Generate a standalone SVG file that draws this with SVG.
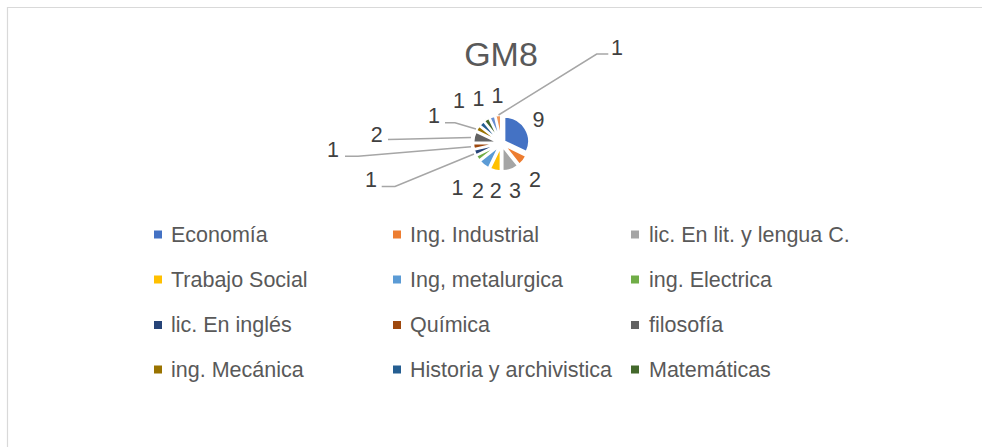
<svg xmlns="http://www.w3.org/2000/svg" width="982" height="447" viewBox="0 0 982 447">
<style>
.sl{stroke:#fff;stroke-width:2;stroke-linejoin:round}
.dl{font-family:"Liberation Sans",Arial,sans-serif;font-size:21.5px;fill:#404040;text-anchor:middle}
.lg{font-family:"Liberation Sans",Arial,sans-serif;font-size:21.5px;fill:#595959}
.ld{fill:none;stroke:#A6A6A6;stroke-width:1.6}
</style>
<rect x="0" y="0" width="982" height="447" fill="#fff"/>
<path d="M7.5,447 V7.5 H982" fill="none" stroke="#D9D9D9" stroke-width="1.2"/>
<text id="title" x="501" y="66" font-family="'Liberation Sans',Arial,sans-serif" font-size="34" fill="#595959" text-anchor="middle">GM8</text>
<g id="pie">
<path id="s1" class="sl" fill="#4472C4" d="M504.36,141.34 L504.36,116.74 A24.6,24.6 0 0 1 526.52,152.01 Z"/>
<path id="s2" class="sl" fill="#ED7D31" d="M504.14,145.38 L526.30,156.05 A24.6,24.6 0 0 1 519.48,164.61 Z"/>
<path id="s3" class="sl" fill="#A5A5A5" d="M502.56,146.50 L517.90,165.73 A24.6,24.6 0 0 1 502.56,171.10 Z"/>
<path id="s4" class="sl" fill="#FFC000" d="M500.62,146.61 L500.62,171.21 A24.6,24.6 0 0 1 489.95,168.77 Z"/>
<path id="s5" class="sl" fill="#5B9BD5" d="M499.22,145.94 L488.55,168.10 A24.6,24.6 0 0 1 479.99,161.28 Z"/>
<path id="s6" class="sl" fill="#70AD47" d="M498.44,145.06 L479.21,160.40 A24.6,24.6 0 0 1 476.28,155.73 Z"/>
<path id="s7" class="sl" fill="#264478" d="M498.10,144.36 L475.94,155.03 A24.6,24.6 0 0 1 474.12,149.83 Z"/>
<path id="s8" class="sl" fill="#9E480E" d="M497.92,143.59 L473.94,149.06 A24.6,24.6 0 0 1 473.32,143.59 Z"/>
<path id="s9" class="sl" fill="#636363" d="M497.99,142.42 L473.39,142.42 A24.6,24.6 0 0 1 475.83,131.75 Z"/>
<path id="s10" class="sl" fill="#997300" d="M498.44,141.34 L476.28,130.67 A24.6,24.6 0 0 1 479.21,126.00 Z"/>
<path id="s11" class="sl" fill="#255E91" d="M498.93,140.73 L479.70,125.39 A24.6,24.6 0 0 1 483.59,121.50 Z"/>
<path id="s12" class="sl" fill="#43682B" d="M499.54,140.24 L484.20,121.01 A24.6,24.6 0 0 1 488.87,118.08 Z"/>
<path id="s13" class="sl" fill="#698ED0" d="M500.24,139.90 L489.57,117.74 A24.6,24.6 0 0 1 494.77,115.92 Z"/>
<path id="s14" class="sl" fill="#F1975A" d="M501.01,139.72 L495.54,115.74 A24.6,24.6 0 0 1 501.01,115.12 Z"/>
</g>
<g id="leaders">
<polyline class="ld" points="381.7,186.5 395,186.5 474,154"/>
<polyline class="ld" points="345,156.3 358,156.3 471,146.8"/>
<polyline class="ld" points="388,139.5 400,139.3 471,137.5"/>
<polyline class="ld" points="445,122.7 455,122.7 476,129"/>
<polyline class="ld" points="608.3,54 596.7,54 498.5,115"/>
</g>
<g id="datalabels">
<text class="dl" x="538.5" y="126.7">9</text>
<text class="dl" x="535" y="186.7">2</text>
<text class="dl" x="515" y="198">3</text>
<text class="dl" x="495.7" y="198">2</text>
<text class="dl" x="478" y="198">2</text>
<text class="dl" x="457.5" y="195">1</text>
<text class="dl" x="371" y="186.7">1</text>
<text class="dl" x="333" y="156.7">1</text>
<text class="dl" x="376.7" y="141.7">2</text>
<text class="dl" x="434" y="123.3">1</text>
<text class="dl" x="459" y="108.3">1</text>
<text class="dl" x="478.5" y="106">1</text>
<text class="dl" x="497.5" y="102.7">1</text>
<text class="dl" x="617" y="55">1</text>
</g>
<g id="legend">
<g id="lg1"><rect x="154" y="230.5" width="8" height="8" fill="#4472C4"/><text class="lg" x="171" y="241.5">Economía</text></g>
<g id="lg2"><rect x="393" y="230.5" width="8" height="8" fill="#ED7D31"/><text class="lg" x="410" y="241.5">Ing. Industrial</text></g>
<g id="lg3"><rect x="631" y="230.5" width="8" height="8" fill="#A5A5A5"/><text class="lg" x="649" y="241.5">lic. En lit. y lengua C.</text></g>
<g id="lg4"><rect x="154" y="275.5" width="8" height="8" fill="#FFC000"/><text class="lg" x="171" y="286.5">Trabajo Social</text></g>
<g id="lg5"><rect x="393" y="275.5" width="8" height="8" fill="#5B9BD5"/><text class="lg" x="410" y="286.5">Ing, metalurgica</text></g>
<g id="lg6"><rect x="631" y="275.5" width="8" height="8" fill="#70AD47"/><text class="lg" x="649" y="286.5">ing. Electrica</text></g>
<g id="lg7"><rect x="154" y="321" width="8" height="8" fill="#264478"/><text class="lg" x="171" y="332">lic. En inglés</text></g>
<g id="lg8"><rect x="393" y="321" width="8" height="8" fill="#9E480E"/><text class="lg" x="410" y="332">Química</text></g>
<g id="lg9"><rect x="631" y="321" width="8" height="8" fill="#636363"/><text class="lg" x="649" y="332">filosofía</text></g>
<g id="lg10"><rect x="154" y="365.5" width="8" height="8" fill="#997300"/><text class="lg" x="171" y="376.5">ing. Mecánica</text></g>
<g id="lg11"><rect x="393" y="365.5" width="8" height="8" fill="#255E91"/><text class="lg" x="410" y="376.5">Historia y archivistica</text></g>
<g id="lg12"><rect x="631" y="365.5" width="8" height="8" fill="#43682B"/><text class="lg" x="649" y="376.5">Matemáticas</text></g>
</g>
</svg>
